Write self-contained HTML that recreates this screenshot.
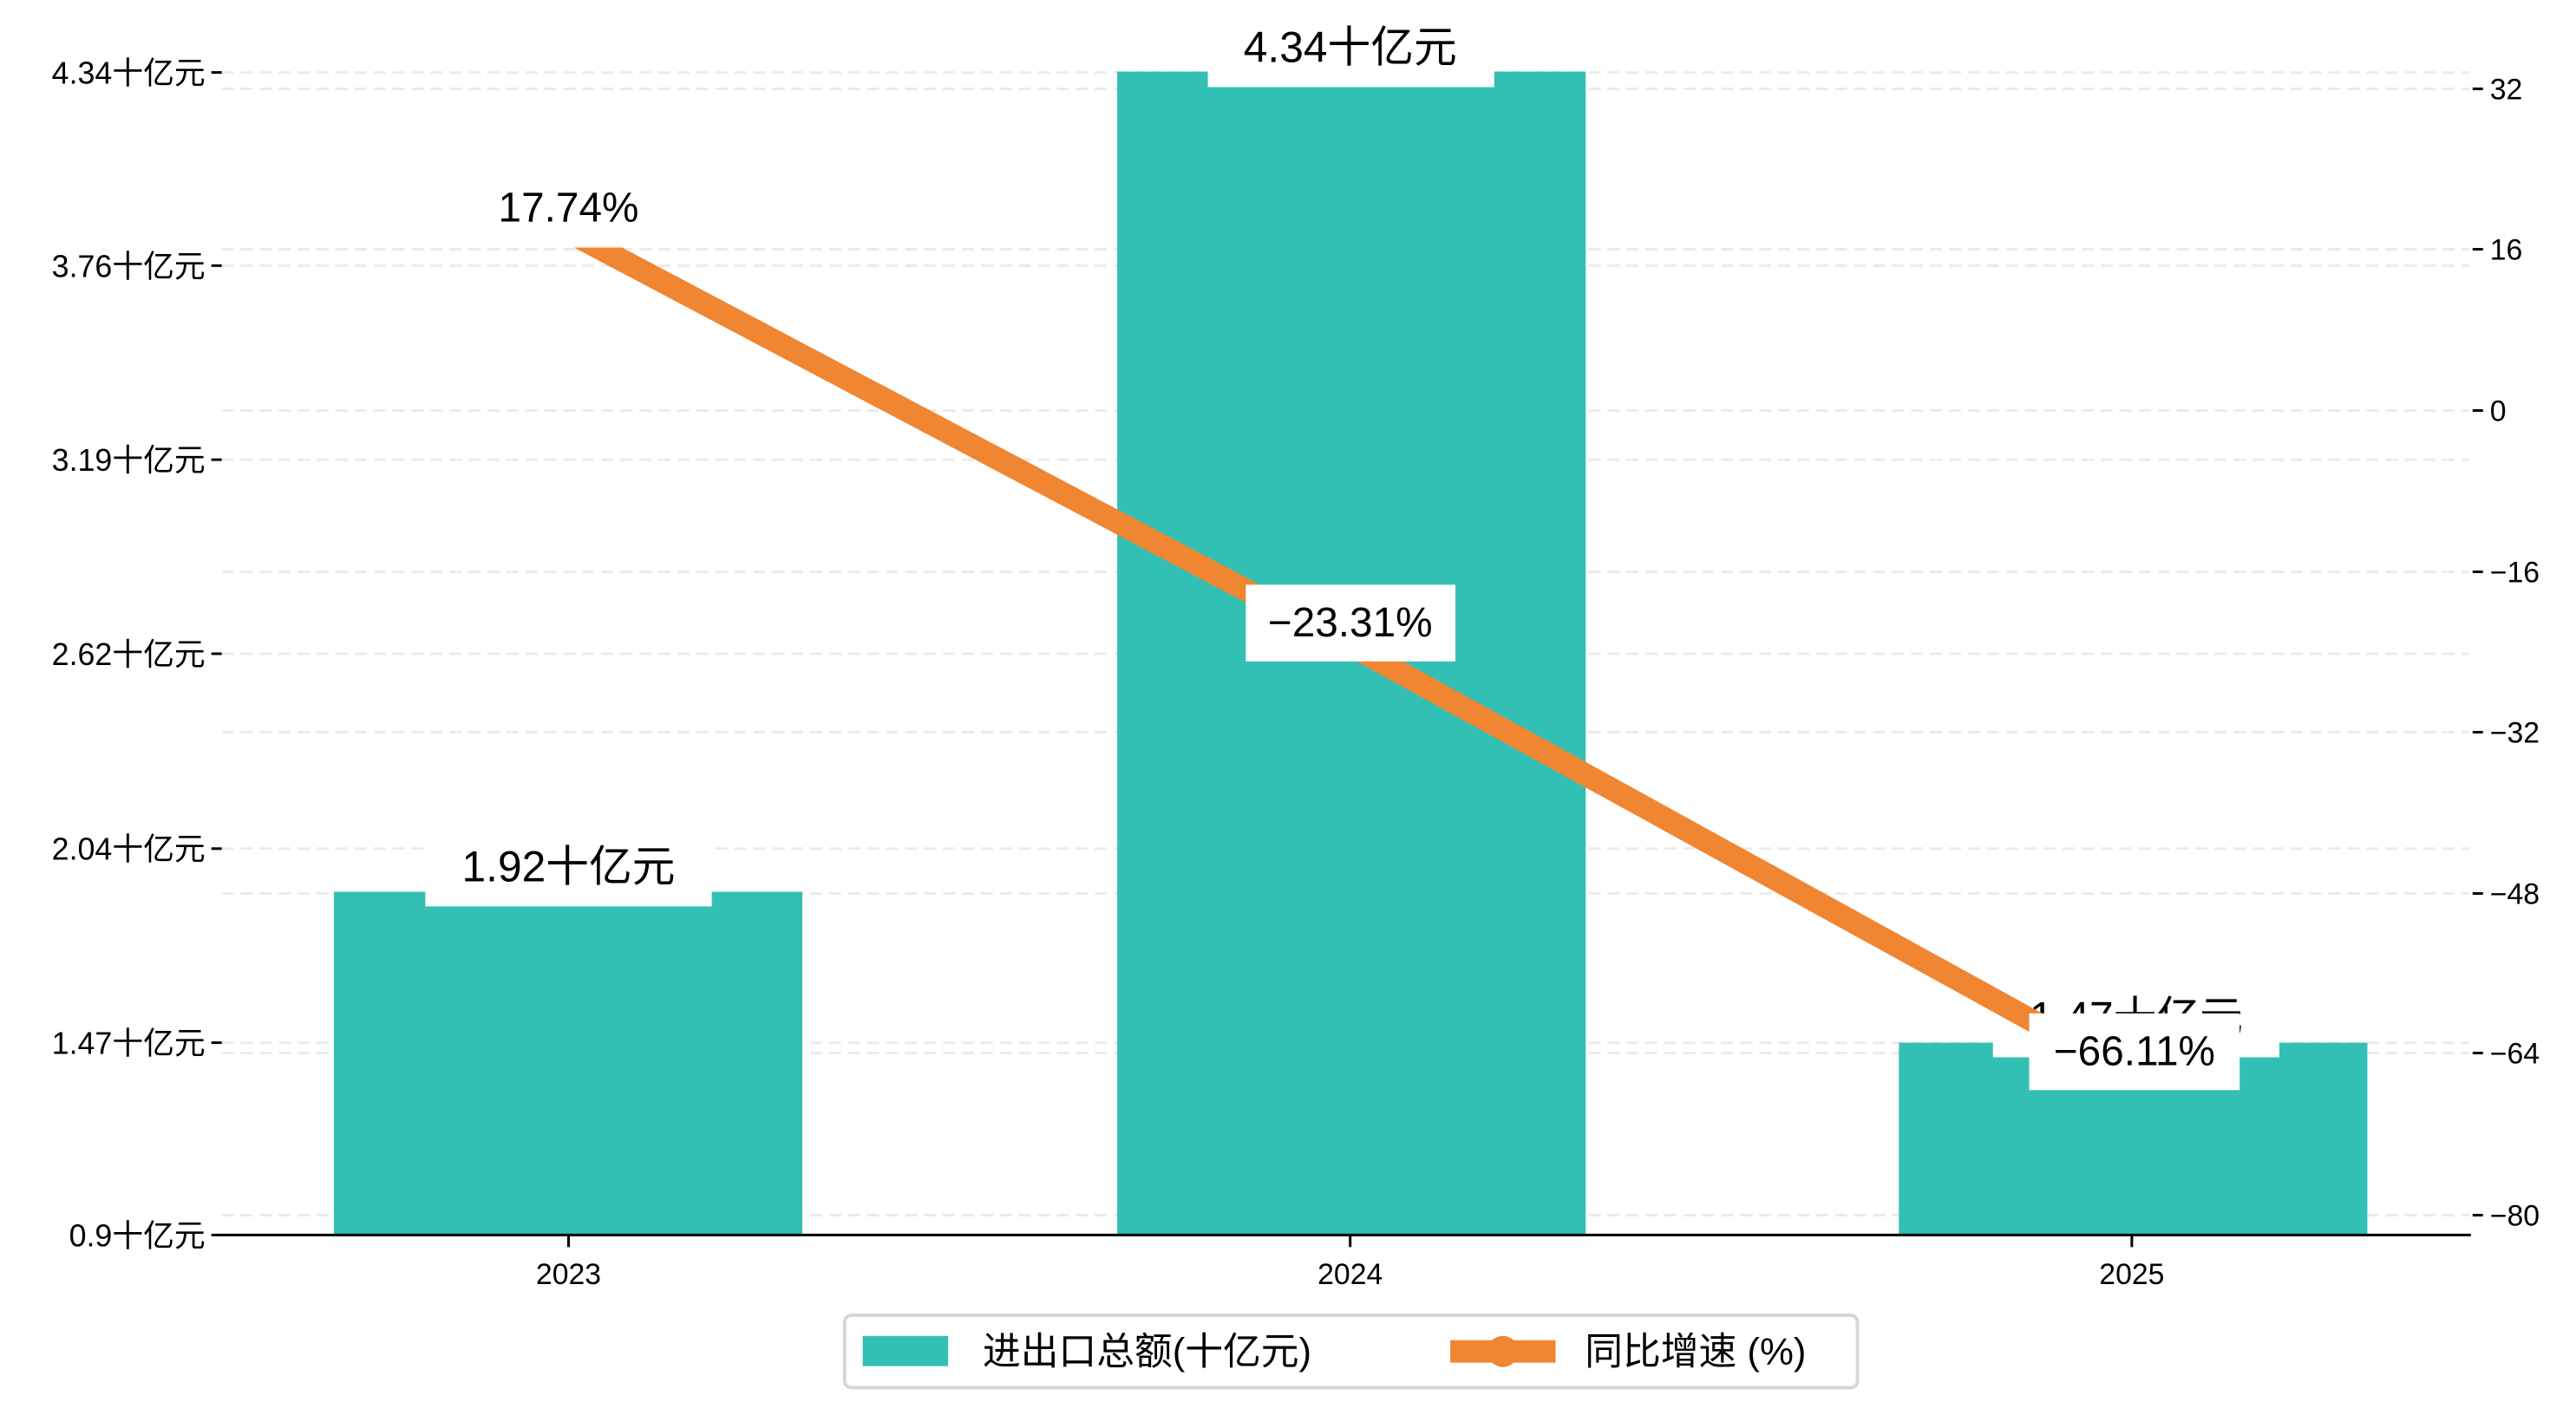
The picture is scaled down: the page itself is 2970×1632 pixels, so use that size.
<!DOCTYPE html>
<html><head><meta charset="utf-8"><style>
html,body{margin:0;padding:0;background:#fff}
svg{display:block}
text{font-family:"WenQuanYi Zen Hei","Liberation Sans","Noto Sans CJK SC",sans-serif;fill:#000}
</style></head><body>
<svg width="2970" height="1632" viewBox="0 0 2970 1632" xmlns="http://www.w3.org/2000/svg">
<g transform="scale(0.9947)">
<g stroke="#ebebeb" stroke-width="3" stroke-dasharray="14,8">
<line x1="257" y1="84" x2="2862" y2="84"/><line x1="257" y1="308" x2="2862" y2="308"/><line x1="257" y1="533" x2="2862" y2="533"/><line x1="257" y1="758" x2="2862" y2="758"/><line x1="257" y1="984" x2="2862" y2="984"/><line x1="257" y1="1209" x2="2862" y2="1209"/>
<line x1="257" y1="103" x2="2862" y2="103"/><line x1="257" y1="289" x2="2862" y2="289"/><line x1="257" y1="476" x2="2862" y2="476"/><line x1="257" y1="663" x2="2862" y2="663"/><line x1="257" y1="849" x2="2862" y2="849"/><line x1="257" y1="1036" x2="2862" y2="1036"/><line x1="257" y1="1221" x2="2862" y2="1221"/><line x1="257" y1="1409" x2="2862" y2="1409"/>
</g>
<g fill="#32c0b4">
<rect x="387" y="1034" width="543" height="398"/>
<rect x="1295" y="83" width="543" height="1349"/>
<rect x="2201" y="1209" width="543" height="223"/>
</g>
<line x1="255" y1="1432" x2="2864" y2="1432" stroke="#000" stroke-width="3"/>
<g stroke="#000" stroke-width="3">
<line x1="245" y1="84" x2="257" y2="84"/><line x1="245" y1="308" x2="257" y2="308"/><line x1="245" y1="533" x2="257" y2="533"/><line x1="245" y1="758" x2="257" y2="758"/><line x1="245" y1="984" x2="257" y2="984"/><line x1="245" y1="1209" x2="257" y2="1209"/><line x1="245" y1="1432" x2="257" y2="1432"/>
<line x1="2866" y1="103" x2="2878" y2="103"/><line x1="2866" y1="289" x2="2878" y2="289"/><line x1="2866" y1="476" x2="2878" y2="476"/><line x1="2866" y1="663" x2="2878" y2="663"/><line x1="2866" y1="849" x2="2878" y2="849"/><line x1="2866" y1="1036" x2="2878" y2="1036"/><line x1="2866" y1="1221" x2="2878" y2="1221"/><line x1="2866" y1="1409" x2="2878" y2="1409"/>
<line x1="659" y1="1432" x2="659" y2="1446"/><line x1="1565" y1="1432" x2="1565" y2="1446"/><line x1="2471" y1="1432" x2="2471" y2="1446"/>
</g>
<g font-size="36" text-anchor="end">
<text x="238" y="97">4.34十亿元</text><text x="238" y="321">3.76十亿元</text><text x="238" y="546">3.19十亿元</text><text x="238" y="771">2.62十亿元</text><text x="238" y="997">2.04十亿元</text><text x="238" y="1222">1.47十亿元</text><text x="238" y="1445">0.9十亿元</text>
</g>
<g font-size="34">
<text x="2886" y="115">32</text><text x="2886" y="301">16</text><text x="2886" y="488">0</text><text x="2886" y="675">−16</text><text x="2886" y="861">−32</text><text x="2886" y="1048">−48</text><text x="2886" y="1233">−64</text><text x="2886" y="1421">−80</text>
</g>
<g font-size="34" text-anchor="middle">
<text x="659" y="1489">2023</text><text x="1565" y="1489">2024</text><text x="2471" y="1489">2025</text>
</g>
<g font-size="50" text-anchor="middle">
<rect x="493" y="970" width="332" height="81" fill="#fff"/><text x="659" y="1022">1.92十亿元</text>
<rect x="1400" y="20" width="332" height="81" fill="#fff"/><text x="1565" y="72">4.34十亿元</text>
<rect x="2310" y="1145" width="332" height="81" fill="#fff"/><text x="2476" y="1197">1.47十亿元</text>
</g>
<polyline points="659,269 1565,748 2471,1247" fill="none" stroke="#f08532" stroke-width="26"/>
<g font-size="48" text-anchor="middle">
<rect x="540" y="205" width="238" height="82" fill="#fff"/><text x="659" y="257">17.74%</text>
<rect x="1444" y="678" width="243" height="89" fill="#fff"/><text x="1565" y="738">−23.31%</text>
<rect x="2352" y="1175" width="244" height="89" fill="#fff"/><text x="2474" y="1235">−66.11%</text>
</g>
<rect x="979" y="1525" width="1174" height="84" rx="8" fill="#fff" stroke="#d6d6d6" stroke-width="4"/>
<rect x="1000" y="1549" width="99" height="35" fill="#32c0b4"/>
<text x="1139" y="1582" font-size="44">进出口总额(十亿元)</text>
<line x1="1681" y1="1567" x2="1803" y2="1567" stroke="#f08532" stroke-width="26"/>
<circle cx="1742" cy="1567" r="18" fill="#f08532"/>
<text x="1837" y="1582" font-size="44">同比增速 (%)</text>
</g>
</svg>
</body></html>
